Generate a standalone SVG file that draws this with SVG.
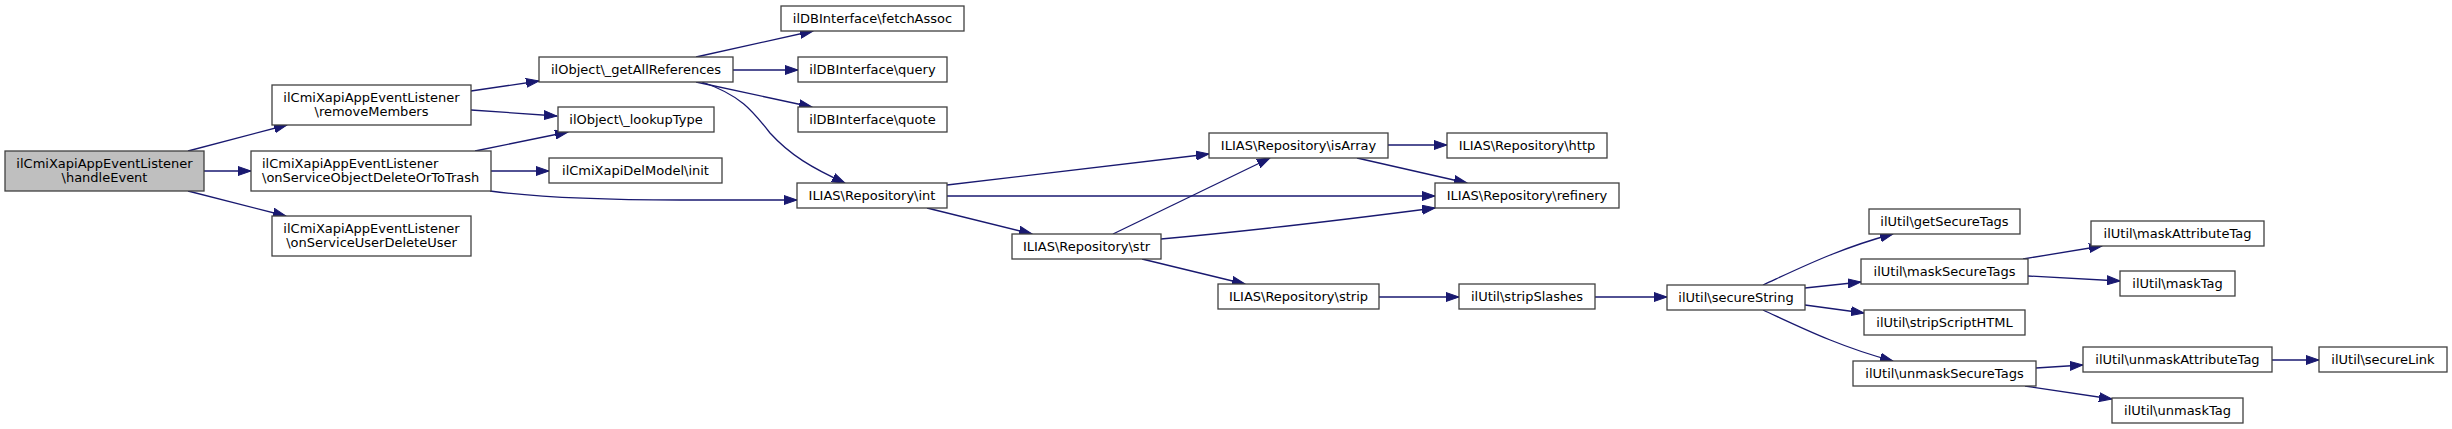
<svg xmlns="http://www.w3.org/2000/svg" width="2452" height="429" viewBox="0 0 2452 429">
<style>
.n rect{fill:#ffffff;stroke:#404040;stroke-width:1.3}
.n.s rect{fill:#bfbfbf}
.n text{font-family:"DejaVu Sans","Liberation Sans",sans-serif;font-size:13px;fill:#000;text-anchor:middle}
.n text.l{text-anchor:start}
.e path{fill:none;stroke:#191970;stroke-width:1.3;marker-end:url(#a)}
</style>
<defs>
<marker id="a" markerWidth="14" markerHeight="10" refX="13" refY="5" orient="auto" markerUnits="userSpaceOnUse">
<path d="M0,0.5 L13,5 L0,9.5 Z" fill="#191970" stroke="#191970" stroke-width="1"/>
</marker>
</defs>
<rect width="2452" height="429" fill="#ffffff"/>
<g id="edges" class="e">
<path d="M188,151 L287,125"/>
<path d="M204,171 L251,171"/>
<path d="M188,191 L286,216"/>
<path d="M471,91 L539,81"/>
<path d="M471,110 L557,116"/>
<path d="M475,151 L568,132"/>
<path d="M491,171 L549,171"/>
<path d="M490,191 C541,198 609,200 680,200 C720,200 760,200 797,200"/>
<path d="M696,57 L813,31"/>
<path d="M733,70 L798,70"/>
<path d="M696,82 L812,107"/>
<path d="M702,82 C740,95 752,110 770,133 C790,155 812,168 845,183"/>
<path d="M947,185 L1209,154"/>
<path d="M947,196 L1435,196"/>
<path d="M927,208 L1032,234"/>
<path d="M1113,234 L1270,158"/>
<path d="M1161,239 C1250,231 1350,219 1435,208"/>
<path d="M1142,259 L1245,284"/>
<path d="M1388,145 L1447,145"/>
<path d="M1357,158 L1467,183"/>
<path d="M1379,297 L1459,297"/>
<path d="M1595,297 L1667,297"/>
<path d="M1763,285 C1800,268 1840,248 1893,234"/>
<path d="M1805,288 L1861,282"/>
<path d="M1805,305 L1864,313"/>
<path d="M1763,310 C1800,327 1840,347 1893,361"/>
<path d="M2023,259 L2102,246"/>
<path d="M2028,276 L2120,281"/>
<path d="M2036,368 L2083,365"/>
<path d="M2025,386 L2112,399"/>
<path d="M2272,360 L2319,360"/>
</g>
<g id="handleEvent" class="n s"><rect x="5" y="151" width="199" height="40"/><text x="104.5" y="167.5">ilCmiXapiAppEventListener</text><text x="104.5" y="181.5">\handleEvent</text></g>
<g id="removeMembers" class="n"><rect x="272" y="85" width="199" height="40"/><text x="371.5" y="101.5">ilCmiXapiAppEventListener</text><text x="371.5" y="115.5">\removeMembers</text></g>
<g id="onServiceObjectDeleteOrToTrash" class="n"><rect x="251" y="151" width="240" height="40"/><text class="l" x="262" y="167.5">ilCmiXapiAppEventListener</text><text class="l" x="262" y="181.5">\onServiceObjectDeleteOrToTrash</text></g>
<g id="onServiceUserDeleteUser" class="n"><rect x="272" y="216" width="199" height="40"/><text x="371.5" y="232.5">ilCmiXapiAppEventListener</text><text x="371.5" y="246.5">\onServiceUserDeleteUser</text></g>
<g id="getAllReferences" class="n"><rect x="539" y="57" width="194" height="25"/><text x="636" y="74">ilObject\_getAllReferences</text></g>
<g id="lookupType" class="n"><rect x="558" y="107" width="156" height="25"/><text x="636" y="124">ilObject\_lookupType</text></g>
<g id="delModelInit" class="n"><rect x="549" y="158" width="173" height="25"/><text x="635.5" y="175">ilCmiXapiDelModel\init</text></g>
<g id="fetchAssoc" class="n"><rect x="781" y="6" width="183" height="25"/><text x="872.5" y="23">ilDBInterface\fetchAssoc</text></g>
<g id="query" class="n"><rect x="798" y="57" width="149" height="25"/><text x="872.5" y="74">ilDBInterface\query</text></g>
<g id="quote" class="n"><rect x="798" y="107" width="149" height="25"/><text x="872.5" y="124">ilDBInterface\quote</text></g>
<g id="int" class="n"><rect x="797" y="183" width="150" height="25"/><text x="872" y="200">ILIAS\Repository\int</text></g>
<g id="isArray" class="n"><rect x="1209" y="133" width="179" height="25"/><text x="1298.5" y="150">ILIAS\Repository\isArray</text></g>
<g id="http" class="n"><rect x="1447" y="133" width="160" height="25"/><text x="1527" y="150">ILIAS\Repository\http</text></g>
<g id="refinery" class="n"><rect x="1435" y="183" width="184" height="25"/><text x="1527" y="200">ILIAS\Repository\refinery</text></g>
<g id="str" class="n"><rect x="1012" y="234" width="149" height="25"/><text x="1086.5" y="251">ILIAS\Repository\str</text></g>
<g id="strip" class="n"><rect x="1218" y="284" width="161" height="25"/><text x="1298.5" y="301">ILIAS\Repository\strip</text></g>
<g id="stripSlashes" class="n"><rect x="1459" y="284" width="136" height="25"/><text x="1527" y="301">ilUtil\stripSlashes</text></g>
<g id="secureString" class="n"><rect x="1667" y="285" width="138" height="25"/><text x="1736" y="302">ilUtil\secureString</text></g>
<g id="getSecureTags" class="n"><rect x="1869" y="209" width="151" height="25"/><text x="1944.5" y="226">ilUtil\getSecureTags</text></g>
<g id="maskSecureTags" class="n"><rect x="1861" y="259" width="167" height="25"/><text x="1944.5" y="276">ilUtil\maskSecureTags</text></g>
<g id="stripScriptHTML" class="n"><rect x="1864" y="310" width="161" height="25"/><text x="1944.5" y="327">ilUtil\stripScriptHTML</text></g>
<g id="unmaskSecureTags" class="n"><rect x="1853" y="361" width="183" height="25"/><text x="1944.5" y="378">ilUtil\unmaskSecureTags</text></g>
<g id="maskAttributeTag" class="n"><rect x="2091" y="221" width="173" height="25"/><text x="2177.5" y="238">ilUtil\maskAttributeTag</text></g>
<g id="maskTag" class="n"><rect x="2120" y="271" width="115" height="25"/><text x="2177.5" y="288">ilUtil\maskTag</text></g>
<g id="unmaskAttributeTag" class="n"><rect x="2083" y="347" width="189" height="25"/><text x="2177.5" y="364">ilUtil\unmaskAttributeTag</text></g>
<g id="secureLink" class="n"><rect x="2319" y="347" width="128" height="25"/><text x="2383" y="364">ilUtil\secureLink</text></g>
<g id="unmaskTag" class="n"><rect x="2112" y="398" width="131" height="25"/><text x="2177.5" y="415">ilUtil\unmaskTag</text></g>
</svg>
